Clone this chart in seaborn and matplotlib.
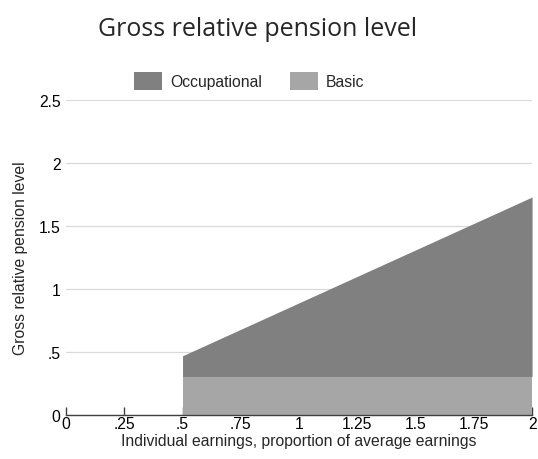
import numpy as np
import pandas as pd
import matplotlib
matplotlib.use("Agg")
import matplotlib.pyplot as plt
import seaborn as sns

# earnings as proportion of average earnings
earnings = [0.5, 2.0]
basic = [0.306, 0.306]
occupational = [0.164, 1.424]
series_names = ["Occupational", "Basic"]
x_ticks = [0, 0.25, 0.5, 0.75, 1, 1.25, 1.5, 1.75, 2]
x_tick_labels = ["0", ".25", ".5", ".75", "1", "1.25", "1.5", "1.75", "2"]
y_ticks = [0, 0.5, 1, 1.5, 2, 2.5]
y_tick_labels = ["0", ".5", "1", "1.5", "2", "2.5"]

sns.set_theme(style="white")
plt.rcParams["font.family"] = ["Liberation Sans", "DejaVu Sans"]

colors = {"Occupational": "#808080", "Basic": "#a6a6a6"}
fs = 11.3

fig = plt.figure(figsize=(5.38, 4.6), dpi=100)
ax = fig.add_axes([0.1227, 0.0957, 0.8663, 0.6848])

ax.stackplot(earnings, basic, occupational,
             colors=[colors["Basic"], colors["Occupational"]],
             linewidth=0)

ax.set_xlim(0, 2)
ax.set_ylim(0, 2.5)
ax.set_xticks(x_ticks, x_tick_labels, fontsize=fs)
ax.set_yticks(y_ticks, y_tick_labels, fontsize=fs)
ax.yaxis.grid(True, color="#d9d9d9", linewidth=0.9)
ax.set_axisbelow(True)
for side in ["left", "right", "top"]:
    ax.spines[side].set_visible(False)
ax.spines["bottom"].set_color("#404040")
ax.spines["bottom"].set_linewidth(1.0)
ax.tick_params(axis="x", direction="in", length=6, width=1, color="#404040",
               bottom=True, pad=1, labelcolor="black")
ax.tick_params(axis="y", length=0, pad=4, labelcolor="black")

ax.set_xlabel("Individual earnings, proportion of average earnings",
              fontsize=fs, labelpad=1)
ax.set_ylabel("Gross relative pension level", fontsize=fs, labelpad=8)

handles = [plt.Rectangle((0, 0), 1, 1, facecolor=colors[n], edgecolor="none")
           for n in series_names]
fig.legend(handles, series_names, loc="center", bbox_to_anchor=(0.463, 0.822),
           ncol=2, frameon=False, fontsize=fs, handlelength=1.8,
           handleheight=1.4, columnspacing=1.8, handletextpad=0.5)

fig.text(0.478, 0.935, "Gross relative pension level", ha="center", va="center",
         fontsize=18, family=["Open Sans", "DejaVu Sans"])

fig.savefig("out.png", dpi=100)
